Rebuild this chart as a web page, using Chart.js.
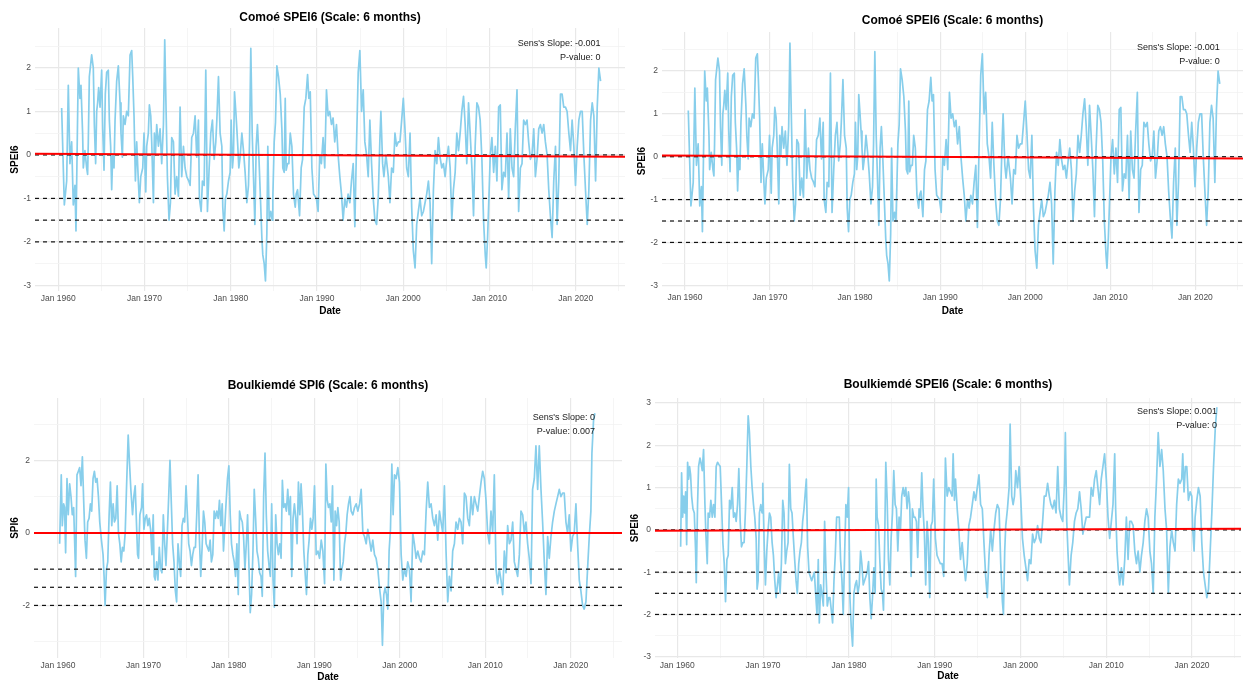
<!DOCTYPE html>
<html>
<head>
<meta charset="utf-8">
<title>SPEI6 / SPI6</title>
<script src="https://cdn.jsdelivr.net/npm/chart.js"></script>
<style>
  html, body { margin: 0; padding: 0; background: #fff; }
  body { width: 1243px; height: 682px; position: relative; overflow: hidden; }
  canvas { position: absolute; }
</style>
</head>
<body>
<canvas id="comoeLeft" width="630" height="322" style="left:0;top:0"></canvas>
<canvas id="comoeRight" width="613" height="322" style="left:630px;top:0"></canvas>
<canvas id="boulkSpi" width="630" height="322" style="left:0;top:360px"></canvas>
<canvas id="boulkSpei" width="613" height="322" style="left:630px;top:360px"></canvas>
<script>
// x axis ticks (years), major ones get a "Jan YYYY" label
const majorYears = [1960, 1970, 1980, 1990, 2000, 2010, 2020];
const minorYears = [1965, 1975, 1985, 1995, 2005, 2015, 2025];
// drought thresholds drawn as dashed lines
const thresholds = [0, -1, -1.5, -2];

// Comoé SPEI6 (same series in both top panels)
const comoeDates = [
  1960.39,1960.70,1960.97,1961.16,1961.35,1961.55,1961.74,1961.93,1962.05,1962.32,1962.51,1962.63,1962.82,1962.90,
  1963.09,1963.29,1963.40,1963.48,1963.60,1963.87,1964.06,1964.18,1964.33,1964.45,1964.56,1964.68,1964.84,
  1965.03,1965.15,1965.30,1965.45,1965.61,1965.80,1965.92,1966.07,1966.19,1966.31,1966.46,1966.58,1966.77,1966.96,
  1967.16,1967.27,1967.43,1967.54,1967.74,1967.93,1968.12,1968.32,1968.51,1968.63,1968.78,1968.94,
  1969.09,1969.28,1969.40,1969.56,1969.79,1969.94,1970.14,1970.25,1970.44,1970.56,1970.72,1970.83,
  1971.03,1971.14,1971.26,1971.41,1971.61,1971.80,1971.99,1972.19,1972.34,1972.50,1972.65,1972.84,
  1973.00,1973.15,1973.35,1973.54,1973.73,1973.93,1974.12,1974.31,1974.51,1974.70,1974.89,
  1975.13,1975.28,1975.47,1975.67,1975.86,1976.05,1976.25,1976.36,1976.56,1976.71,1976.91,
  1977.10,1977.29,1977.49,1977.68,1977.87,1978.07,1978.26,1978.38,1978.57,1978.76,1978.96,
  1979.07,1979.23,1979.38,1979.54,1979.73,1979.92,1980.04,1980.19,1980.31,1980.43,1980.58,1980.70,1980.81,1980.93,
  1981.08,1981.28,1981.47,1981.66,1981.86,1982.05,1982.17,1982.32,1982.48,1982.63,1982.79,1982.94,
  1983.09,1983.25,1983.40,1983.60,1983.71,1983.87,1984.02,1984.18,1984.29,1984.45,1984.64,1984.80,1984.87,
  1985.03,1985.18,1985.34,1985.53,1985.73,1985.92,1986.03,1986.19,1986.31,1986.42,1986.58,1986.73,1986.89,
  1987.08,1987.27,1987.47,1987.58,1987.74,1987.97,1988.16,1988.32,1988.51,1988.70,1988.90,
  1989.05,1989.21,1989.40,1989.59,1989.92,1990.12,1990.31,1990.50,1990.70,1990.89,
  1991.09,1991.28,1991.47,1991.67,1991.86,1992.05,1992.25,1992.44,1992.64,1992.83,
  1993.02,1993.22,1993.41,1993.60,1993.80,1993.99,1994.19,1994.38,1994.57,1994.77,1994.96,
  1995.16,1995.35,1995.54,1995.74,1995.93,1996.12,1996.32,1996.51,1996.71,1996.90,
  1997.09,1997.29,1997.40,1997.60,1997.75,1997.98,1998.26,1998.45,1998.64,1998.84,
  1999.03,1999.22,1999.42,1999.61,1999.81,2000.00,2000.19,2000.39,2000.58,2000.78,2000.97,
  2001.16,2001.36,2001.55,2001.74,2001.94,2002.13,2002.33,2002.52,2002.71,2002.91,
  2003.10,2003.29,2003.49,2003.68,2003.88,2004.07,2004.26,2004.46,2004.65,2004.84,
  2005.04,2005.23,2005.43,2005.62,2005.81,2006.01,2006.20,2006.40,2006.59,2006.78,2006.98,
  2007.17,2007.36,2007.56,2007.75,2007.95,2008.14,2008.33,2008.53,2008.72,2008.91,
  2009.11,2009.30,2009.50,2009.61,2009.77,2009.92,2010.08,2010.27,2010.47,2010.66,2010.85,
  2011.05,2011.24,2011.43,2011.63,2011.82,2012.02,2012.21,2012.40,2012.60,2012.79,2012.98,
  2013.18,2013.37,2013.57,2013.76,2013.95,2014.15,2014.34,2014.53,2014.73,2014.92,
  2015.12,2015.31,2015.50,2015.70,2015.89,2016.09,2016.28,2016.47,2016.67,2016.86,
  2017.05,2017.25,2017.44,2017.64,2017.83,2018.02,2018.22,2018.41,2018.60,2018.80,2018.99,
  2019.19,2019.38,2019.57,2019.77,2019.96,2020.16,2020.35,2020.54,2020.74,2020.93,
  2021.12,2021.32,2021.51,2021.71,2021.90,2022.09,2022.29,2022.48,2022.67,2022.87
];
const comoeSpei6 = [
  1.08,-1.15,-0.6,1.6,-0.2,0.3,-1.15,-0.7,-1.75,2.0,1.3,1.6,0.5,-0.3,
  0.1,-0.3,-0.45,0.3,1.8,2.3,2.0,0.7,-0.2,1.0,1.2,1.55,1.1,
  1.95,0.6,-0.35,1.4,1.9,1.95,0.8,0.2,-0.8,0.0,-0.3,0.8,1.7,2.05,
  1.2,0.5,-0.05,0.9,0.7,1.0,0.9,2.3,2.4,1.8,0.9,-0.6,
  0.3,-0.6,-1.1,-0.5,-0.3,0.5,-0.85,0.2,0.5,1.15,0.9,0.3,
  -1.1,0.5,0.0,0.7,0.2,0.6,-0.2,0.7,2.65,1.0,-0.5,-1.5,
  -1.1,0.4,0.3,-0.9,-0.5,-0.95,1.1,-0.5,0.2,-0.3,-0.5,
  -0.6,-0.7,0.4,0.5,0.9,-0.05,0.8,-1.0,-1.3,-0.6,-0.7,
  1.95,-1.3,-0.3,0.5,0.8,-0.1,0.3,0.8,1.8,0.5,0.2,
  -1.2,-1.75,-1.0,-0.9,-0.6,-0.4,0.8,-0.3,0.0,1.45,1.0,0.6,0.2,-0.3,
  -0.05,0.5,0.1,-0.4,-1.1,-0.7,0.3,2.45,0.5,-0.5,-1.6,0.2,
  0.7,0.0,-0.8,-1.9,-2.3,-2.5,-2.9,-1.8,0.2,-1.5,-1.3,-1.5,-1.0,
  0.3,0.75,2.05,1.8,1.4,0.6,-0.3,-0.4,1.3,-0.35,-0.2,-0.2,0.5,
  0.2,-0.9,-1.2,-0.9,-0.8,-1.4,-0.3,-0.1,1.1,1.3,1.85,
  1.3,1.45,-0.3,-0.9,-1.0,-1.3,0.0,-0.2,0.4,-0.3,
  1.5,0.9,1.0,0.7,0.85,0.3,0.7,0.0,-0.5,-0.9,
  -1.5,-1.0,-1.2,-0.9,-1.1,-0.6,-0.2,-1.65,0.2,1.9,2.4,
  1.0,1.5,0.3,0.0,-0.5,0.8,-0.2,-1.0,-1.5,-1.6,
  -1.0,0.4,1.0,-0.2,-0.5,0.0,-0.5,-1.1,-0.3,-0.4,
  0.5,0.2,0.3,0.3,0.8,1.3,0.6,-0.3,-0.5,0.5,-1.2,
  -2.2,-2.6,-1.6,-1.3,-1.0,-1.4,-1.3,-1.1,-0.9,-0.6,
  -1.1,-2.5,-0.8,0.1,-0.2,0.4,-0.05,-0.3,-0.2,-0.5,
  -0.1,0.2,-0.3,-1.5,-0.8,-0.4,0.5,0.1,0.5,1.0,1.35,
  0.7,-0.2,1.2,0.5,-0.3,-1.4,0.2,1.2,1.1,0.8,
  -0.1,-1.5,-2.3,-2.6,-1.9,-1.0,0.0,0.4,-0.4,0.2,-0.6,
  1.1,1.15,-0.8,-0.4,-0.5,0.5,-1.0,0.6,-0.3,-0.5,0.6,
  1.5,-1.3,-0.3,-0.2,0.8,0.7,0.8,0.3,-0.1,0.0,
  0.6,-0.5,-0.1,0.6,0.7,0.5,0.7,0.3,0.0,-0.8,
  -1.4,-1.9,-0.6,0.2,-1.6,-0.6,1.4,1.4,1.1,1.1,1.0,
  0.5,0.1,0.8,0.2,-0.7,0.2,0.8,1.0,1.0,0.0,
  -0.8,-1.6,-0.8,0.8,1.2,0.9,-0.6,1.1,2.0,1.7
];

// Boulkiemdé SPI6
const boulkSpiDates = [
  1960.20,1960.39,1960.51,1960.67,1960.78,1960.90,1961.06,1961.21,1961.37,1961.53,1961.68,1961.84,
  1962.00,1962.07,1962.23,1962.39,1962.54,1962.70,1962.86,1963.01,1963.17,1963.33,1963.48,1963.64,1963.80,1963.95,
  1964.11,1964.27,1964.42,1964.58,1964.74,1964.89,1965.09,1965.28,1965.40,1965.52,1965.68,1965.83,1965.99,
  1966.14,1966.30,1966.46,1966.61,1966.77,1966.93,1967.08,1967.24,1967.40,1967.55,1967.71,1967.87,
  1968.02,1968.22,1968.38,1968.53,1968.73,1968.88,1969.04,1969.20,1969.32,1969.43,1969.59,1969.78,1969.90,
  1970.06,1970.22,1970.37,1970.53,1970.68,1970.84,1971.00,1971.15,1971.27,1971.39,1971.55,1971.70,1971.86,
  1972.02,1972.17,1972.33,1972.49,1972.64,1972.80,1972.96,1973.11,1973.27,1973.42,1973.58,1973.74,1973.89,
  1974.05,1974.21,1974.36,1974.52,1974.68,1974.83,1974.99,1975.15,1975.30,1975.46,1975.62,1975.77,1975.93,
  1976.09,1976.24,1976.40,1976.56,1976.71,1976.87,1977.03,1977.18,1977.34,1977.50,1977.65,1977.81,1977.96,
  1978.12,1978.28,1978.43,1978.59,1978.75,1978.90,1979.06,1979.22,1979.37,1979.53,1979.69,1979.84,
  1980.00,1980.16,1980.31,1980.47,1980.63,1980.78,1980.94,1981.10,1981.25,1981.41,1981.57,1981.72,1981.88,
  1982.04,1982.19,1982.35,1982.50,1982.66,1982.82,1982.97,1983.13,1983.29,1983.44,1983.60,1983.76,1983.91,
  1984.07,1984.23,1984.38,1984.54,1984.70,1984.85,1985.01,1985.17,1985.32,1985.48,1985.64,1985.79,1985.95,
  1986.11,1986.26,1986.42,1986.58,1986.73,1986.89,1987.05,1987.20,1987.36,1987.51,1987.67,1987.83,1987.98,
  1988.14,1988.30,1988.45,1988.61,1988.77,1988.92,1989.08,1989.24,1989.39,1989.55,1989.71,1989.86,
  1990.02,1990.22,1990.42,1990.61,1990.81,1991.00,1991.20,1991.35,1991.51,1991.66,1991.82,1991.98,
  1992.13,1992.29,1992.44,1992.60,1992.75,1992.91,1993.07,1993.22,1993.38,1993.53,1993.69,1993.84,
  1994.00,1994.16,1994.31,1994.51,1994.70,1994.90,1995.09,1995.29,1995.48,1995.68,1995.87,
  1996.07,1996.26,1996.46,1996.65,1996.84,1997.04,1997.23,1997.43,1997.62,1997.82,1997.97,
  1998.13,1998.29,1998.44,1998.60,1998.75,1998.91,1999.07,1999.22,1999.38,1999.57,1999.77,1999.96,
  2000.16,2000.35,2000.55,2000.74,2000.93,2001.13,2001.32,2001.52,2001.71,2001.91,
  2002.10,2002.30,2002.49,2002.69,2002.88,2003.08,2003.27,2003.47,2003.66,2003.86,
  2004.05,2004.25,2004.44,2004.64,2004.83,2005.03,2005.22,2005.41,2005.61,2005.80,
  2006.00,2006.19,2006.39,2006.58,2006.78,2006.97,2007.17,2007.36,2007.56,2007.75,2007.95,
  2008.14,2008.34,2008.53,2008.73,2008.92,2009.12,2009.31,2009.51,2009.70,2009.89,
  2010.09,2010.28,2010.48,2010.67,2010.87,2011.06,2011.26,2011.45,2011.65,2011.84,
  2012.04,2012.23,2012.43,2012.62,2012.82,2013.01,2013.21,2013.40,2013.60,2013.79,2013.99,
  2014.18,2014.38,2014.57,2014.76,2014.96,2015.15,2015.35,2015.54,2015.74,2015.93,
  2016.13,2016.32,2016.52,2016.71,2016.91,2017.10,2017.30,2017.49,2017.69,2017.88,
  2018.08,2018.27,2018.47,2018.66,2018.85,2019.05,2019.24,2019.44,2019.63,2019.83,
  2020.02,2020.22,2020.41,2020.61,2020.80,2021.00,2021.19,2021.39,2021.58,2021.78,2021.97,2022.17,2022.36,2022.48,2022.67,2022.83
];
const boulkSpi6 = [
  -0.3,1.6,0.2,0.8,0.7,-0.55,1.5,0.5,1.35,1.0,0.5,0.7,
  -0.6,-1.2,1.6,1.7,1.8,1.3,2.1,0.9,-0.2,-0.7,0.3,0.4,0.8,0.6,
  1.5,1.7,1.4,1.5,1.0,0.3,-0.2,-0.6,-1.2,-2.0,-1.0,-0.8,0.5,
  1.4,0.2,0.8,0.3,0.4,1.3,0.0,-0.3,-0.8,-0.4,-0.5,0.0,
  1.2,2.7,1.9,1.2,0.5,1.0,1.3,0.2,-0.6,-0.7,0.5,0.7,1.35,
  0.1,0.4,0.5,0.2,0.4,0.1,-0.6,0.5,-1.2,-1.3,-0.8,-1.3,-0.4,
  -1.0,-1.1,0.5,-0.3,-0.9,0.0,1.0,2.0,0.8,-0.3,-0.8,-1.6,-1.9,
  -0.3,-0.8,-1.2,0.2,0.4,0.3,1.3,0.5,-0.3,-0.5,-0.9,-0.6,-0.4,
  -0.4,0.5,1.6,-0.2,-1.2,-0.4,0.6,0.3,-0.3,-0.4,-0.5,-0.2,-0.8,
  -0.6,0.6,0.4,0.6,0.4,0.9,0.2,0.8,-0.5,0.2,0.9,1.5,
  1.85,0.5,-0.3,-0.6,-0.8,-1.2,-0.3,-1.7,0.6,0.4,0.3,-0.1,-1.0,
  -0.3,0.5,-0.9,-2.2,-1.7,-0.5,1.2,0.4,-0.5,-0.7,-1.1,-1.2,-1.75,
  1.0,2.2,0.5,-0.5,-0.9,-1.2,0.8,-1.3,-2.05,0.5,-0.3,-0.6,-0.3,
  -0.7,1.45,0.7,0.8,0.6,1.2,0.5,1.0,-1.2,0.4,0.8,0.4,-0.3,
  1.4,0.5,1.35,0.6,-0.5,-1.1,-1.7,-0.6,-0.2,0.4,0.1,0.4,
  1.3,-0.6,-0.5,-0.7,-0.2,-0.5,-1.4,1.9,0.9,0.7,0.8,0.3,
  1.3,-1.3,0.6,0.2,0.7,0.3,-1.3,-1.0,-0.8,-0.3,0.0,0.5,
  0.8,1.0,0.6,0.5,0.7,0.8,0.6,0.8,1.2,0.0,-0.1,
  -0.3,0.1,-0.2,-0.5,-0.2,-0.6,-0.7,-1.0,-1.5,-1.9,-3.1,
  -1.7,-1.5,-1.7,-2.1,-0.5,0.1,1.9,0.5,1.6,1.5,1.8,1.4,
  -0.6,-1.3,-1.0,-1.2,-0.8,-1.0,-1.9,0.0,-0.3,-0.7,
  -0.5,-0.7,-0.8,-0.5,-0.6,0.6,1.4,0.7,0.8,0.4,
  0.2,0.5,-0.2,0.6,0.3,0.0,1.3,-0.5,-1.9,-1.2,
  -1.6,-0.5,-0.3,0.3,0.1,0.4,0.3,-0.3,1.1,1.0,0.4,
  0.2,1.0,0.5,1.0,0.8,0.6,1.0,1.4,1.7,1.5,
  0.9,0.0,-0.3,0.6,0.0,1.6,-1.0,-1.4,-1.0,-1.3,
  -1.7,-0.5,-1.1,0.2,-0.3,-0.2,0.3,-0.8,-1.0,-1.2,-0.6,
  0.6,0.5,0.0,0.3,-0.3,-0.7,-1.4,1.2,1.5,2.4,
  1.2,2.4,1.2,0.3,-0.8,-1.7,-0.1,-0.7,-0.1,0.3,
  0.6,0.8,1.0,1.2,1.0,1.1,1.1,0.3,0.0,0.5,
  -0.5,-0.1,0.0,0.8,-0.3,-1.3,-1.6,-2.0,-2.1,-1.9,-1.0,-0.1,0.6,2.2,3.1,3.3
];

// Boulkiemdé SPEI6
const boulkSpeiDates = [
  1960.39,1960.50,1960.62,1960.74,1960.85,1960.97,1961.09,1961.20,1961.32,1961.43,1961.55,1961.67,1961.82,1961.98,
  1962.13,1962.21,1962.36,1962.48,1962.64,1962.75,1962.91,1963.06,1963.22,1963.33,1963.49,1963.60,1963.76,1963.91,
  1964.07,1964.22,1964.38,1964.53,1964.69,1964.84,1965.00,1965.16,1965.31,1965.47,1965.62,1965.78,1965.93,
  1966.09,1966.24,1966.40,1966.55,1966.71,1966.86,1967.02,1967.17,1967.33,1967.48,1967.64,1967.79,1967.95,
  1968.10,1968.26,1968.41,1968.57,1968.72,1968.88,1969.03,1969.19,1969.30,1969.42,1969.57,1969.73,1969.88,1969.96,
  1970.12,1970.27,1970.43,1970.58,1970.74,1970.89,1971.05,1971.20,1971.36,1971.51,1971.67,1971.82,1971.98,
  1972.13,1972.29,1972.44,1972.60,1972.75,1972.91,1973.06,1973.22,1973.37,1973.53,1973.68,1973.84,1973.99,
  1974.15,1974.30,1974.46,1974.61,1974.77,1974.92,1975.04,1975.19,1975.35,1975.50,1975.66,1975.81,1975.97,
  1976.12,1976.28,1976.43,1976.55,1976.71,1976.86,1977.02,1977.17,1977.33,1977.48,1977.64,1977.79,1977.95,
  1978.10,1978.26,1978.41,1978.57,1978.72,1978.88,1979.03,1979.19,1979.34,1979.50,1979.65,1979.81,1979.96,
  1980.12,1980.27,1980.43,1980.58,1980.74,1980.89,1981.05,1981.20,1981.36,1981.51,1981.67,1981.82,1981.98,
  1982.13,1982.29,1982.44,1982.60,1982.75,1982.91,1983.06,1983.18,1983.29,1983.45,1983.60,1983.76,1983.91,
  1984.03,1984.19,1984.30,1984.46,1984.61,1984.77,1984.92,1985.08,1985.23,1985.39,1985.54,1985.70,1985.85,
  1986.01,1986.16,1986.32,1986.47,1986.63,1986.78,1986.94,1987.09,1987.25,1987.40,1987.56,1987.71,1987.87,
  1988.02,1988.18,1988.33,1988.49,1988.64,1988.80,1988.95,1989.11,1989.26,1989.42,1989.57,1989.73,1989.88,
  1990.08,1990.27,1990.47,1990.66,1990.86,1991.05,1991.25,1991.45,1991.64,1991.84,
  1992.03,1992.15,1992.30,1992.42,1992.62,1992.81,1993.01,1993.20,1993.40,1993.59,1993.79,1993.98,
  1994.18,1994.38,1994.57,1994.77,1994.96,1995.16,1995.35,1995.55,1995.74,1995.94,
  1996.13,1996.33,1996.52,1996.72,1996.91,1997.11,1997.30,1997.50,1997.70,1997.89,
  1998.01,1998.16,1998.28,1998.48,1998.67,1998.79,1998.98,1999.14,1999.30,1999.45,1999.65,1999.84,
  2000.04,2000.23,2000.43,2000.63,2000.82,2001.02,2001.21,2001.41,2001.60,2001.80,2001.99,
  2002.19,2002.38,2002.58,2002.77,2002.97,2003.16,2003.36,2003.55,2003.75,2003.95,
  2004.14,2004.34,2004.53,2004.73,2004.92,2005.12,2005.23,2005.39,2005.55,2005.70,2005.90,
  2006.09,2006.29,2006.48,2006.68,2006.88,2007.07,2007.27,2007.46,2007.66,2007.85,
  2008.05,2008.24,2008.44,2008.63,2008.83,2009.02,2009.22,2009.41,2009.61,2009.80,
  2010.00,2010.20,2010.39,2010.59,2010.78,2010.98,2011.09,2011.25,2011.41,2011.56,2011.76,2011.95,
  2012.15,2012.34,2012.54,2012.73,2012.93,2013.13,2013.32,2013.52,2013.71,2013.91,
  2014.10,2014.30,2014.49,2014.69,2014.88,2015.08,2015.27,2015.47,2015.66,2015.86,
  2016.05,2016.25,2016.45,2016.64,2016.84,2017.03,2017.23,2017.42,2017.62,2017.81,
  2018.01,2018.20,2018.40,2018.59,2018.79,2018.91,2019.06,2019.22,2019.38,2019.57,2019.77,2019.96,
  2020.08,2020.23,2020.35,2020.55,2020.74,2020.94,2021.13,2021.33,2021.52,2021.72,2021.91,2022.11,2022.30,2022.50,2022.70,2022.89
];
const boulkSpei6 = [
  -0.4,1.35,0.3,0.8,0.4,0.9,-0.35,1.6,1.2,1.5,1.3,0.8,0.5,0.4,
  -0.5,-1.25,0.6,1.5,1.7,1.6,1.4,1.9,0.6,-0.1,-0.8,0.4,0.3,0.7,
  0.3,0.6,0.3,1.5,1.6,1.55,1.5,0.6,-0.3,-0.8,-1.7,-0.7,-0.6,
  0.7,0.5,1.0,0.3,0.4,0.2,0.6,1.45,0.2,-0.4,-0.3,-0.3,0.5,
  1.5,2.7,2.3,1.5,1.0,0.6,0.3,-0.2,-1.4,-1.2,0.4,0.6,0.4,1.1,
  -0.3,-1.3,-0.5,0.0,0.4,0.3,-0.3,-0.6,-1.2,-1.6,-1.3,-1.0,-1.5,
  -0.8,0.7,0.4,-0.8,-0.5,-0.3,1.55,0.5,0.4,-0.2,-0.7,-1.2,-1.5,
  -0.8,-0.5,-0.3,0.2,0.5,0.9,1.2,-0.4,-1.0,-1.1,-1.2,-1.1,-1.0,
  -1.5,-2.0,-0.7,-2.2,-1.3,-1.5,-1.8,0.2,-1.0,-1.8,-1.6,-1.6,-1.9,
  -2.2,-1.2,-0.6,0.3,0.3,0.3,-0.7,-1.2,-2.0,-0.6,0.6,0.3,1.0,
  -1.6,-2.3,-2.75,-1.5,-1.3,-1.2,-1.5,-1.3,-0.5,-0.8,-1.3,-1.2,-1.1,
  -1.0,-0.75,-1.6,-2.1,-1.6,-0.9,-1.5,1.2,0.3,0.1,-0.7,-1.4,-1.5,
  -1.9,0.0,1.6,0.7,-0.7,-1.3,-0.2,0.4,1.4,0.6,0.5,-0.5,0.3,
  0.0,0.8,1.0,0.8,1.0,0.5,0.9,0.6,-1.1,0.5,0.3,0.3,0.2,
  -0.65,0.5,0.3,1.35,0.5,-0.1,-1.3,0.2,-0.3,-1.6,0.1,0.2,1.2,
  -0.2,-0.6,-0.7,-0.8,-0.8,-1.1,1.7,0.8,1.0,0.9,
  0.8,1.8,0.7,1.2,0.5,0.0,-0.7,-0.3,-0.8,-1.2,-0.8,0.1,
  0.3,0.6,0.9,0.7,1.0,1.3,0.6,0.5,-0.3,-1.1,
  -1.6,-0.6,0.0,-0.5,0.0,0.4,0.6,0.5,-0.8,-1.7,
  -2.0,-0.5,0.1,0.5,1.0,2.5,0.8,0.6,0.8,1.4,1.0,1.5,
  0.7,-0.2,-0.6,-0.9,-1.2,-0.7,-0.8,-0.1,-0.3,-0.2,0.1,
  -0.2,-0.3,0.2,0.8,0.8,1.1,0.8,0.6,0.5,0.7,
  0.4,1.5,0.5,0.3,0.2,1.1,2.3,0.2,-0.6,-1.3,-0.6,
  -0.3,0.2,0.4,0.5,0.9,0.5,-0.1,0.1,0.3,0.3,
  0.3,1.0,0.8,1.2,1.4,1.0,0.6,1.2,1.5,1.8,
  1.2,0.3,-0.2,0.2,0.6,1.8,0.5,-0.5,-1.0,-1.3,-0.9,-1.3,
  -0.7,0.3,-0.7,0.2,0.2,0.1,-0.5,-0.8,-0.5,-1.0,
  -0.6,-0.3,0.2,0.5,0.3,-0.5,-0.8,-1.5,0.3,1.2,
  2.3,1.5,1.9,1.4,0.5,0.0,-1.5,-0.4,0.0,-0.3,
  -0.5,0.6,1.2,1.1,1.2,1.8,0.9,1.5,1.5,0.7,0.9,0.8,
  0.0,-0.5,0.3,0.7,1.0,0.8,-0.3,-1.0,-1.3,-1.6,-1.4,-0.5,0.4,1.5,2.4,2.9
];

// Sen's slope trend lines (value at left and right edge of the panel)
const comoeTrend = [0.03, -0.04];
const boulkSpiTrend = [0.0, 0.0];
const boulkSpeiTrend = [-0.02, 0.03];

// y axis ticks
const speiMajor = [-3, -2, -1, 0, 1, 2];
const speiMinor = [-2.5, -1.5, -0.5, 0.5, 1.5, 2.5];
const spiMajor = [-2, 0, 2];
const spiMinor = [-3, -1, 1, 3];
const boulkSpeiMajor = [-3, -2, -1, 0, 1, 2, 3];
const boulkSpeiMinor = [-2.5, -1.5, -0.5, 0.5, 1.5, 2.5];

Chart.defaults.font.family = '"Liberation Sans", Arial, Helvetica, sans-serif';

// Sen's slope / p-value text, anchored at (last date, max value) like ggplot annotate(hjust = 1)
const sensLabel = {
  id: 'sensLabel',
  afterDatasetsDraw(chart, args, opts) {
    const { ctx, scales } = chart;
    const px = scales.x.getPixelForValue(opts.atX);
    const py = scales.y.getPixelForValue(opts.atY);
    ctx.save();
    ctx.font = '9px "Liberation Sans", Arial, sans-serif';
    ctx.fillStyle = '#1a1a1a';
    ctx.textAlign = 'right';
    ctx.textBaseline = 'middle';
    opts.lines.forEach((t, i) => ctx.fillText(t, px, py + 4 + i * 14));
    ctx.restore();
  }
};

function buildPanel(id, p) {
  const xTicks = majorYears.concat(minorYears).sort((a, b) => a - b);
  const yTicks = p.yMajor.concat(p.yMinor).sort((a, b) => a - b);
  const series = p.dates.map((d, i) => ({ x: d, y: p.values[i] }));

  const datasets = [
    { data: [{ x: p.xMin, y: p.trend[0] }, { x: p.xMax, y: p.trend[1] }], borderColor: '#ff0000', borderWidth: 2, order: 1 },
  ];
  thresholds.forEach(t => {
    datasets.push({ data: [{ x: p.xMin, y: t }, { x: p.xMax, y: t }], borderColor: '#111', borderWidth: 1.2, borderDash: [4, 4], order: 2 });
  });
  datasets.push({ data: series, borderColor: '#87ceeb', borderWidth: 1.7, order: 3 });

  return new Chart(document.getElementById(id), {
    type: 'line',
    data: { datasets: datasets },
    plugins: [sensLabel],
    options: {
      responsive: false,
      animation: false,
      events: [],
      elements: { point: { radius: 0 }, line: { tension: 0, fill: false, borderJoinStyle: 'round' } },
      layout: { padding: { left: 0, right: p.padRight, top: 0, bottom: 0 } },
      plugins: {
        legend: { display: false },
        tooltip: { enabled: false },
        title: {
          display: true,
          text: p.title,
          fullSize: false,
          color: '#000',
          font: { size: 12, weight: 'bold', lineHeight: 1 },
          padding: { top: p.titleTop, bottom: p.titleBottom }
        },
        sensLabel: { atX: p.dates[p.dates.length - 1], atY: Math.max(...p.values), lines: p.note }
      },
      scales: {
        x: {
          type: 'linear',
          min: p.xMin,
          max: p.xMax,
          afterBuildTicks: s => { s.ticks = xTicks.map(v => ({ value: v })); },
          afterFit: s => { s.height = p.xAxisH; },
          border: { display: false },
          grid: {
            drawTicks: false,
            color: c => majorYears.includes(c.tick.value) ? '#e8e8e8' : '#f2f2f2',
            lineWidth: c => majorYears.includes(c.tick.value) ? 1.2 : 0.8
          },
          ticks: {
            autoSkip: false,
            maxRotation: 0,
            padding: 3,
            color: '#4d4d4d',
            font: { size: 8.5 },
            callback: v => majorYears.includes(v) ? 'Jan ' + v : ''
          },
          title: {
            display: true,
            text: 'Date',
            color: '#000',
            font: { size: 10, weight: 'bold', lineHeight: 1 },
            padding: { top: 0, bottom: p.dateBottom }
          }
        },
        y: {
          type: 'linear',
          min: p.yMin,
          max: p.yMax,
          afterBuildTicks: s => { s.ticks = yTicks.map(v => ({ value: v })); },
          afterFit: s => { s.width = p.yAxisW; },
          border: { display: false },
          grid: {
            drawTicks: false,
            color: c => p.yMajor.includes(c.tick.value) ? '#e8e8e8' : '#f2f2f2',
            lineWidth: c => p.yMajor.includes(c.tick.value) ? 1.2 : 0.8
          },
          ticks: {
            autoSkip: false,
            padding: 4,
            color: '#4d4d4d',
            font: { size: 8.5 },
            callback: v => p.yMajor.includes(v) ? String(v) : ''
          },
          title: {
            display: true,
            text: p.yTitle,
            color: '#000',
            font: { size: 10, weight: 'bold', lineHeight: 1 },
            padding: { top: p.yTitleTop, bottom: 0 }
          }
        }
      }
    }
  });
}

buildPanel('comoeLeft', {
  title: 'Comoé SPEI6 (Scale: 6 months)', yTitle: 'SPEI6',
  dates: comoeDates, values: comoeSpei6, trend: comoeTrend,
  note: ["Sens's Slope: -0.001", 'P-value: 0'],
  yMajor: speiMajor, yMinor: speiMinor,
  xMin: 1957.3, xMax: 2025.7, yMin: -3.13, yMax: 2.92,
  yAxisW: 35, padRight: 5, xAxisH: 31, titleTop: 12, titleBottom: 4, dateBottom: 6, yTitleTop: 10
});

buildPanel('comoeRight', {
  title: 'Comoé SPEI6 (Scale: 6 months)', yTitle: 'SPEI6',
  dates: comoeDates, values: comoeSpei6, trend: comoeTrend,
  note: ["Sens's Slope: -0.001", 'P-value: 0'],
  yMajor: speiMajor, yMinor: speiMinor,
  xMin: 1957.3, xMax: 2025.6, yMin: -3.11, yMax: 2.91,
  yAxisW: 32, padRight: 0, xAxisH: 32, titleTop: 15, titleBottom: 5, dateBottom: 6, yTitleTop: 7
});

buildPanel('boulkSpi', {
  title: 'Boulkiemdé SPI6 (Scale: 6 months)', yTitle: 'SPI6',
  dates: boulkSpiDates, values: boulkSpi6, trend: boulkSpiTrend,
  note: ["Sens's Slope: 0", 'P-value: 0.007'],
  yMajor: spiMajor, yMinor: spiMinor,
  xMin: 1957.2, xMax: 2026.0, yMin: -3.45, yMax: 3.72,
  yAxisW: 34, padRight: 8, xAxisH: 24, titleTop: 20, titleBottom: 6, dateBottom: 0, yTitleTop: 10
});

buildPanel('boulkSpei', {
  title: 'Boulkiemdé SPEI6 (Scale: 6 months)', yTitle: 'SPEI6',
  dates: boulkSpeiDates, values: boulkSpei6, trend: boulkSpeiTrend,
  note: ["Sens's Slope: 0.001", 'P-value: 0'],
  yMajor: boulkSpeiMajor, yMinor: boulkSpeiMinor,
  xMin: 1957.4, xMax: 2025.7, yMin: -3.03, yMax: 3.12,
  yAxisW: 25, padRight: 2, xAxisH: 24, titleTop: 19, titleBottom: 7, dateBottom: 1, yTitleTop: 0
});
</script>
</body>
</html>
